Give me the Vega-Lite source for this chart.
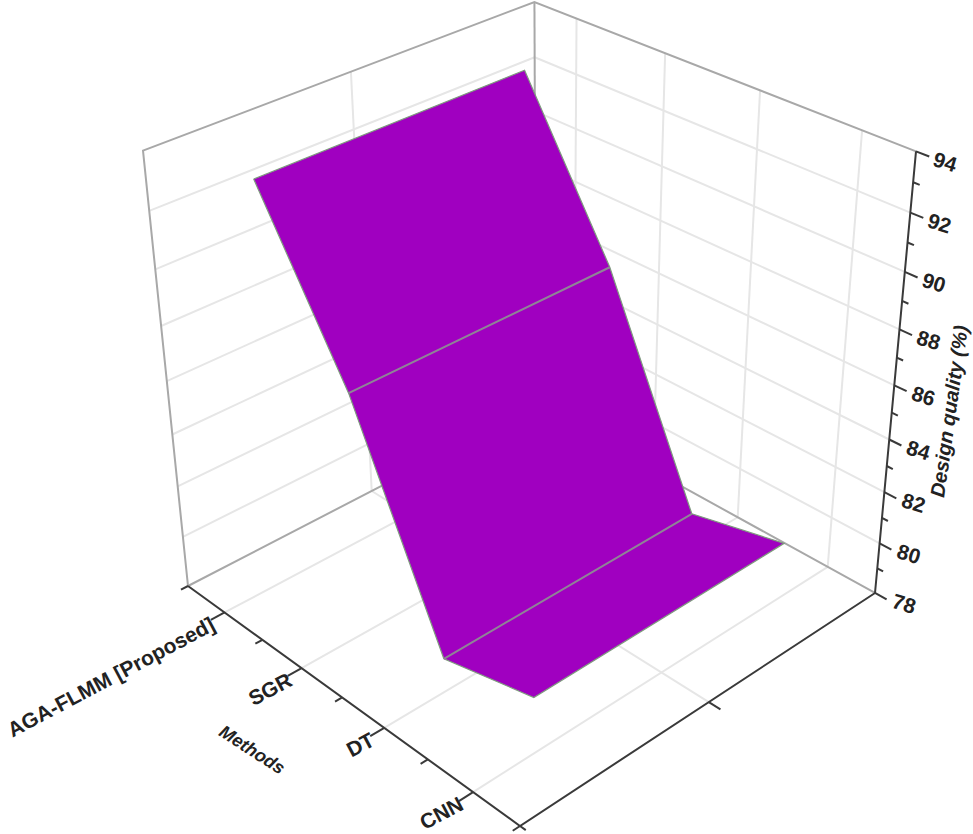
{
"$schema":"https://vega.github.io/schema/vega-lite/v6.json",
"width":973,"height":834,"padding":0,"autosize":{"type":"none"},"background":"white",
"config":{"view":{"stroke":null}},
"data":{"values":[
{"kind":"grid","line":"l80","pos":0.5,"depth":0,"value":80,"ord":1},{"kind":"grid","line":"l80","pos":0.5,"depth":1,"value":80,"ord":2},
{"kind":"grid","line":"l82","pos":0.5,"depth":0,"value":82,"ord":1},{"kind":"grid","line":"l82","pos":0.5,"depth":1,"value":82,"ord":2},
{"kind":"grid","line":"l84","pos":0.5,"depth":0,"value":84,"ord":1},{"kind":"grid","line":"l84","pos":0.5,"depth":1,"value":84,"ord":2},
{"kind":"grid","line":"l86","pos":0.5,"depth":0,"value":86,"ord":1},{"kind":"grid","line":"l86","pos":0.5,"depth":1,"value":86,"ord":2},
{"kind":"grid","line":"l88","pos":0.5,"depth":0,"value":88,"ord":1},{"kind":"grid","line":"l88","pos":0.5,"depth":1,"value":88,"ord":2},
{"kind":"grid","line":"l90","pos":0.5,"depth":0,"value":90,"ord":1},{"kind":"grid","line":"l90","pos":0.5,"depth":1,"value":90,"ord":2},
{"kind":"grid","line":"l92","pos":0.5,"depth":0,"value":92,"ord":1},{"kind":"grid","line":"l92","pos":0.5,"depth":1,"value":92,"ord":2},
{"kind":"grid","line":"r80","pos":0.5,"depth":1,"value":80,"ord":1},{"kind":"grid","line":"r80","pos":4.5,"depth":1,"value":80,"ord":2},
{"kind":"grid","line":"r82","pos":0.5,"depth":1,"value":82,"ord":1},{"kind":"grid","line":"r82","pos":4.5,"depth":1,"value":82,"ord":2},
{"kind":"grid","line":"r84","pos":0.5,"depth":1,"value":84,"ord":1},{"kind":"grid","line":"r84","pos":4.5,"depth":1,"value":84,"ord":2},
{"kind":"grid","line":"r86","pos":0.5,"depth":1,"value":86,"ord":1},{"kind":"grid","line":"r86","pos":4.5,"depth":1,"value":86,"ord":2},
{"kind":"grid","line":"r88","pos":0.5,"depth":1,"value":88,"ord":1},{"kind":"grid","line":"r88","pos":4.5,"depth":1,"value":88,"ord":2},
{"kind":"grid","line":"r90","pos":0.5,"depth":1,"value":90,"ord":1},{"kind":"grid","line":"r90","pos":4.5,"depth":1,"value":90,"ord":2},
{"kind":"grid","line":"r92","pos":0.5,"depth":1,"value":92,"ord":1},{"kind":"grid","line":"r92","pos":4.5,"depth":1,"value":92,"ord":2},
{"kind":"grid","line":"v1","pos":1,"depth":1,"value":78,"ord":1},{"kind":"grid","line":"v1","pos":1,"depth":1,"value":94,"ord":2},
{"kind":"grid","line":"v2","pos":2,"depth":1,"value":78,"ord":1},{"kind":"grid","line":"v2","pos":2,"depth":1,"value":94,"ord":2},
{"kind":"grid","line":"v3","pos":3,"depth":1,"value":78,"ord":1},{"kind":"grid","line":"v3","pos":3,"depth":1,"value":94,"ord":2},
{"kind":"grid","line":"v4","pos":4,"depth":1,"value":78,"ord":1},{"kind":"grid","line":"v4","pos":4,"depth":1,"value":94,"ord":2},
{"kind":"grid","line":"vd","pos":0.5,"depth":0.5,"value":78,"ord":1},{"kind":"grid","line":"vd","pos":0.5,"depth":0.5,"value":94,"ord":2},
{"kind":"grid","line":"f1","pos":1,"depth":0,"value":78,"ord":1},{"kind":"grid","line":"f1","pos":1,"depth":1,"value":78,"ord":2},
{"kind":"grid","line":"f2","pos":2,"depth":0,"value":78,"ord":1},{"kind":"grid","line":"f2","pos":2,"depth":1,"value":78,"ord":2},
{"kind":"grid","line":"f3","pos":3,"depth":0,"value":78,"ord":1},{"kind":"grid","line":"f3","pos":3,"depth":1,"value":78,"ord":2},
{"kind":"grid","line":"f4","pos":4,"depth":0,"value":78,"ord":1},{"kind":"grid","line":"f4","pos":4,"depth":1,"value":78,"ord":2},
{"kind":"grid","line":"fd","pos":0.5,"depth":0.5,"value":78,"ord":1},{"kind":"grid","line":"fd","pos":4.5,"depth":0.5,"value":78,"ord":2},
{"kind":"wall","line":"w1","pos":0.5,"depth":0,"value":78,"ord":1},{"kind":"wall","line":"w1","pos":0.5,"depth":0,"value":94,"ord":2},{"kind":"wall","line":"w1","pos":0.5,"depth":1,"value":94,"ord":3},{"kind":"wall","line":"w1","pos":4.5,"depth":1,"value":94,"ord":4},
{"kind":"wall","line":"w2","pos":0.5,"depth":1,"value":94,"ord":1},{"kind":"wall","line":"w2","pos":0.5,"depth":1,"value":78,"ord":2},
{"kind":"wall","line":"w3","pos":0.5,"depth":0,"value":78,"ord":1},{"kind":"wall","line":"w3","pos":0.5,"depth":1,"value":78,"ord":2},{"kind":"wall","line":"w3","pos":4.5,"depth":1,"value":78,"ord":3},
{"kind":"surface","method":"AGA-FLMM [Proposed]","pos":1,"depth":0.155,"value":92.9,"ord":1},
{"kind":"surface","method":"SGR","pos":2,"depth":0.155,"value":87.15,"ord":2},
{"kind":"surface","method":"DT","pos":3,"depth":0.155,"value":79.3,"ord":3},
{"kind":"surface","method":"CNN","pos":4,"depth":0.155,"value":80.15,"ord":4},
{"kind":"surface","method":"CNN","pos":4,"depth":0.852,"value":80.15,"ord":5},
{"kind":"surface","method":"DT","pos":3,"depth":0.852,"value":79.3,"ord":6},
{"kind":"surface","method":"SGR","pos":2,"depth":0.852,"value":87.15,"ord":7},
{"kind":"surface","method":"AGA-FLMM [Proposed]","pos":1,"depth":0.852,"value":92.9,"ord":8},
{"kind":"outline","method":"AGA-FLMM [Proposed]","pos":1,"depth":0.155,"value":92.9,"ord":9},
{"kind":"axis","line":"a1","pos":0.5,"depth":0,"value":78,"ord":1},{"kind":"axis","line":"a1","pos":4.5,"depth":0,"value":78,"ord":2},{"kind":"axis","line":"a1","pos":4.5,"depth":1,"value":78,"ord":3},{"kind":"axis","line":"a1","pos":4.5,"depth":1,"value":94,"ord":4},
{"kind":"axis","line":"mt0","pos":0.5,"depth":0,"value":78,"ord":1},{"kind":"axis","line":"mt0","pos":0.5,"depth":-0.018,"value":78,"ord":2},
{"kind":"axis","line":"mt1","pos":1,"depth":0,"value":78,"ord":1},{"kind":"axis","line":"mt1","pos":1,"depth":-0.035,"value":78,"ord":2},
{"kind":"axis","line":"mt2","pos":1.5,"depth":0,"value":78,"ord":1},{"kind":"axis","line":"mt2","pos":1.5,"depth":-0.018,"value":78,"ord":2},
{"kind":"axis","line":"mt3","pos":2,"depth":0,"value":78,"ord":1},{"kind":"axis","line":"mt3","pos":2,"depth":-0.035,"value":78,"ord":2},
{"kind":"axis","line":"mt4","pos":2.5,"depth":0,"value":78,"ord":1},{"kind":"axis","line":"mt4","pos":2.5,"depth":-0.018,"value":78,"ord":2},
{"kind":"axis","line":"mt5","pos":3,"depth":0,"value":78,"ord":1},{"kind":"axis","line":"mt5","pos":3,"depth":-0.035,"value":78,"ord":2},
{"kind":"axis","line":"mt6","pos":3.5,"depth":0,"value":78,"ord":1},{"kind":"axis","line":"mt6","pos":3.5,"depth":-0.018,"value":78,"ord":2},
{"kind":"axis","line":"mt7","pos":4,"depth":0,"value":78,"ord":1},{"kind":"axis","line":"mt7","pos":4,"depth":-0.035,"value":78,"ord":2},
{"kind":"axis","line":"mt8","pos":4.5,"depth":0,"value":78,"ord":1},{"kind":"axis","line":"mt8","pos":4.5,"depth":-0.018,"value":78,"ord":2},
{"kind":"axis","line":"dt0","pos":4.5,"depth":0,"value":78,"ord":1},{"kind":"axis","line":"dt0","pos":4.56,"depth":0,"value":78,"ord":2},
{"kind":"axis","line":"dt1","pos":4.5,"depth":0.5,"value":78,"ord":1},{"kind":"axis","line":"dt1","pos":4.62,"depth":0.5,"value":78,"ord":2},
{"kind":"axis","line":"z78","pos":4.5,"depth":1,"value":78,"ord":1},{"kind":"axis","line":"z78","pos":4.62,"depth":1,"value":78,"ord":2},
{"kind":"axis","line":"z79","pos":4.5,"depth":1,"value":79,"ord":1},{"kind":"axis","line":"z79","pos":4.56,"depth":1,"value":79,"ord":2},
{"kind":"axis","line":"z80","pos":4.5,"depth":1,"value":80,"ord":1},{"kind":"axis","line":"z80","pos":4.62,"depth":1,"value":80,"ord":2},
{"kind":"axis","line":"z81","pos":4.5,"depth":1,"value":81,"ord":1},{"kind":"axis","line":"z81","pos":4.56,"depth":1,"value":81,"ord":2},
{"kind":"axis","line":"z82","pos":4.5,"depth":1,"value":82,"ord":1},{"kind":"axis","line":"z82","pos":4.62,"depth":1,"value":82,"ord":2},
{"kind":"axis","line":"z83","pos":4.5,"depth":1,"value":83,"ord":1},{"kind":"axis","line":"z83","pos":4.56,"depth":1,"value":83,"ord":2},
{"kind":"axis","line":"z84","pos":4.5,"depth":1,"value":84,"ord":1},{"kind":"axis","line":"z84","pos":4.62,"depth":1,"value":84,"ord":2},
{"kind":"axis","line":"z85","pos":4.5,"depth":1,"value":85,"ord":1},{"kind":"axis","line":"z85","pos":4.56,"depth":1,"value":85,"ord":2},
{"kind":"axis","line":"z86","pos":4.5,"depth":1,"value":86,"ord":1},{"kind":"axis","line":"z86","pos":4.62,"depth":1,"value":86,"ord":2},
{"kind":"axis","line":"z87","pos":4.5,"depth":1,"value":87,"ord":1},{"kind":"axis","line":"z87","pos":4.56,"depth":1,"value":87,"ord":2},
{"kind":"axis","line":"z88","pos":4.5,"depth":1,"value":88,"ord":1},{"kind":"axis","line":"z88","pos":4.62,"depth":1,"value":88,"ord":2},
{"kind":"axis","line":"z89","pos":4.5,"depth":1,"value":89,"ord":1},{"kind":"axis","line":"z89","pos":4.56,"depth":1,"value":89,"ord":2},
{"kind":"axis","line":"z90","pos":4.5,"depth":1,"value":90,"ord":1},{"kind":"axis","line":"z90","pos":4.62,"depth":1,"value":90,"ord":2},
{"kind":"axis","line":"z91","pos":4.5,"depth":1,"value":91,"ord":1},{"kind":"axis","line":"z91","pos":4.56,"depth":1,"value":91,"ord":2},
{"kind":"axis","line":"z92","pos":4.5,"depth":1,"value":92,"ord":1},{"kind":"axis","line":"z92","pos":4.62,"depth":1,"value":92,"ord":2},
{"kind":"axis","line":"z93","pos":4.5,"depth":1,"value":93,"ord":1},{"kind":"axis","line":"z93","pos":4.56,"depth":1,"value":93,"ord":2},
{"kind":"axis","line":"z94","pos":4.5,"depth":1,"value":94,"ord":1},{"kind":"axis","line":"z94","pos":4.62,"depth":1,"value":94,"ord":2},
{"kind":"zlabel","label":"78","pos":4.5,"depth":1,"value":78},{"kind":"zlabel","label":"80","pos":4.5,"depth":1,"value":80},{"kind":"zlabel","label":"82","pos":4.5,"depth":1,"value":82},{"kind":"zlabel","label":"84","pos":4.5,"depth":1,"value":84},{"kind":"zlabel","label":"86","pos":4.5,"depth":1,"value":86},{"kind":"zlabel","label":"88","pos":4.5,"depth":1,"value":88},{"kind":"zlabel","label":"90","pos":4.5,"depth":1,"value":90},{"kind":"zlabel","label":"92","pos":4.5,"depth":1,"value":92},{"kind":"zlabel","label":"94","pos":4.5,"depth":1,"value":94},
{"kind":"mlabel","label":"AGA-FLMM [Proposed]","pos":1,"depth":0,"value":78},{"kind":"mlabel","label":"SGR","pos":2,"depth":0,"value":78},{"kind":"mlabel","label":"DT","pos":3,"depth":0,"value":78},{"kind":"mlabel","label":"CNN","pos":4,"depth":0,"value":78},
{"kind":"mtitle","label":"Methods","pos":2.5,"depth":0,"value":78},
{"kind":"ztitle","label":"Design quality (%)","pos":4.5,"depth":1,"value":86}
]},
"transform":[
{"calculate":"(datum.pos-0.5)/4","as":"a"},
{"calculate":"(datum.value-78)/16","as":"c"},
{"calculate":"1-0.1326*datum.a+0.11821*datum.depth-0.11049*datum.c","as":"den"},
{"calculate":"(188+263.05*datum.a+411.36*datum.depth-60.8*datum.c)/datum.den","as":"px"},
{"calculate":"(586+130.47*datum.a-132.01*datum.depth-452*datum.c)/datum.den","as":"py"}
],
"encoding":{
"x":{"field":"px","type":"quantitative","scale":{"domain":[0,973],"nice":false,"zero":false},"axis":null},
"y":{"field":"py","type":"quantitative","scale":{"domain":[834,0],"nice":false,"zero":false},"axis":null}
},
"layer":[
{"transform":[{"filter":"datum.kind==='grid'"}],"mark":{"type":"line","stroke":"#e6e6e6","strokeWidth":2},"encoding":{"detail":{"field":"line"},"order":{"field":"ord"}}},
{"transform":[{"filter":"datum.kind==='wall'"}],"mark":{"type":"line","stroke":"#a8a8a8","strokeWidth":2},"encoding":{"detail":{"field":"line"},"order":{"field":"ord"}}},
{"transform":[{"filter":"datum.kind==='surface'||datum.kind==='outline'"}],"mark":{"type":"line","fill":"#A000C0","stroke":"#7f9a7f","strokeWidth":1.2},"encoding":{"order":{"field":"ord"}}},
{"transform":[{"filter":"datum.kind==='surface'&&(datum.method==='SGR'||datum.method==='DT')"}],"mark":{"type":"line","stroke":"#8f8496","strokeWidth":2},"encoding":{"detail":{"field":"method"},"order":{"field":"ord"}}},
{"transform":[{"filter":"datum.kind==='axis'"}],"mark":{"type":"line","stroke":"#3a3a3a","strokeWidth":2},"encoding":{"detail":{"field":"line"},"order":{"field":"ord"}}},
{"transform":[{"filter":"datum.kind==='zlabel'"}],"mark":{"type":"text","font":"Liberation Sans","fontWeight":"bold","fontSize":21,"fill":"#222222","angle":17,"align":"center","baseline":"middle","dx":31,"dy":3},"encoding":{"text":{"field":"label"}}},
{"transform":[{"filter":"datum.kind==='mlabel'"}],"mark":{"type":"text","font":"Liberation Sans","fontWeight":"bold","fontSize":21,"fill":"#222222","angle":-28,"align":"right","baseline":"middle","dx":-15,"dy":5},"encoding":{"text":{"field":"label"}}},
{"transform":[{"filter":"datum.kind==='mtitle'"}],"mark":{"type":"text","font":"Liberation Sans","fontStyle":"italic","fontWeight":"bold","fontSize":18,"fill":"#222222","angle":33,"align":"center","baseline":"middle","dx":-47,"dy":94},"encoding":{"text":{"field":"label"}}},
{"transform":[{"filter":"datum.kind==='ztitle'"}],"mark":{"type":"text","font":"Liberation Sans","fontStyle":"italic","fontWeight":"bold","fontSize":20,"fill":"#222222","angle":-82,"align":"center","baseline":"middle","dx":-18,"dy":59},"encoding":{"text":{"field":"label"}}}
]
}
